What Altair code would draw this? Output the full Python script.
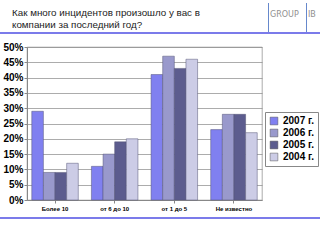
import altair as alt
import pandas as pd

categories = ["Более 10", "от 6 до 10", "от 1 до 5", "Не известно"]
series = ["2007 г.", "2006 г.", "2005 г.", "2004 г."]
v2007 = [29, 11, 41, 23]
v2006 = [9, 15, 47, 28]
v2005 = [9, 19, 43, 28]
v2004 = [12, 20, 46, 22]
colors = ["#8080F0", "#9999CC", "#5C5C8E", "#CCCCE6"]
yticks = [0, 5, 10, 15, 20, 25, 30, 35, 40, 45, 50]
title_lines = ["Как много инцидентов произошло у вас в", "компании за последний год?"]

rows = []
for s, vals in zip(series, [v2007, v2006, v2005, v2004]):
    for c, v in zip(categories, vals):
        rows.append({"cat": c, "series": s, "val": v / 100})
df = pd.DataFrame(rows)

W, H = 235, 153

bars = alt.Chart(df).mark_bar(stroke="#555577", strokeWidth=0.5).encode(
    x=alt.X("cat:N", sort=categories, title=None,
            scale=alt.Scale(paddingInner=0.22, paddingOuter=0.08),
            axis=alt.Axis(labelAngle=0, labelFont="Arial", labelFontSize=6,
                          labelFontWeight="bold", labelColor="#000", domainColor="#888",
                          tickColor="#888", labelPadding=2, tickSize=3, ticks=True)),
    xOffset=alt.XOffset("series:N", sort=series),
    y=alt.Y("val:Q", title=None,
            scale=alt.Scale(domain=[0, 0.5], nice=False),
            axis=alt.Axis(values=[t / 100 for t in yticks], format=".0%",
                          labelFont="Arial", labelFontSize=10, labelFontWeight="bold",
                          labelColor="#000", gridColor="#888", gridWidth=0.7,
                          domainColor="#888", tickColor="#888", tickSize=3, labelPadding=1)),
    color=alt.Color("series:N", sort=series,
                    scale=alt.Scale(domain=series, range=colors),
                    legend=alt.Legend(title=None, orient="none", legendX=238, legendY=65,
                                      symbolType="square", symbolSize=60, symbolStrokeWidth=0.5,
                                      symbolStrokeColor="#555",
                                      labelFont="Arial", labelFontSize=10, labelFontWeight="bold",
                                      labelColor="#000", strokeColor="#888", padding=4,
                                      rowPadding=2, fillColor="white")),
)

one = pd.DataFrame({"a": [0]})

def txt(s, x, y, size, color, font="Arial", align="left"):
    return alt.Chart(pd.DataFrame({"t": [s]})).mark_text(
        align=align, baseline="middle", font=font, fontSize=size, color=color).encode(
        x=alt.value(x), y=alt.value(y), text="t:N")

t1 = txt(title_lines[0], -15, -34, 9.8, "#222")
t2 = txt(title_lines[1], -15, -22, 9.8, "#222")
logo = txt("GROUP", 243, -32, 8, "#909090", font="DejaVu Sans")
logo2 = txt("IB", 281, -32, 8, "#909090", font="DejaVu Sans")
vl1 = alt.Chart(one).mark_rule(color="#6688CC", strokeWidth=1).encode(
    x=alt.value(241.5), y=alt.value(-44), y2=alt.value(-13))
vl2 = alt.Chart(one).mark_rule(color="#6688CC", strokeWidth=1).encode(
    x=alt.value(279.5), y=alt.value(-44), y2=alt.value(-13))
hl1 = alt.Chart(one).mark_rule(color="#7B7BEA", strokeWidth=2).encode(
    x=alt.value(-27), x2=alt.value(293), y=alt.value(-14))
hl2 = alt.Chart(one).mark_rule(color="#7B7BEA", strokeWidth=2).encode(
    x=alt.value(-27), x2=alt.value(293), y=alt.value(171))

chart = alt.layer(bars, t1, t2, logo, logo2, vl1, vl2, hl1, hl2).properties(
    width=W, height=H,
    autosize=alt.AutoSizeParams(type="none"),
    padding={"left": 27, "top": 47, "right": 58, "bottom": 40},
    background="white",
).configure_view(stroke="#888", strokeWidth=0.7)

chart.save("out.html", embed_options={"renderer": "svg", "actions": False})
